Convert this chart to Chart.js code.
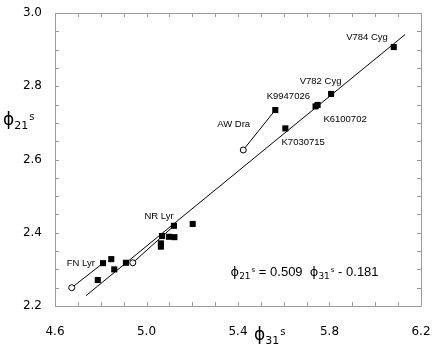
<!DOCTYPE html>
<html lang="en">
<head>
<meta charset="UTF-8">
<title>phi21 vs phi31</title>
<script src="https://cdn.jsdelivr.net/npm/chart.js"></script>
<style>
  body { margin: 0; background: #fff; }
</style>
</head>
<body>
<canvas id="chart" width="436" height="356"></canvas>
<script>
// filled squares (phi31, phi21)
const sqX = [4.787, 4.810, 4.846, 4.859, 4.910, 5.063, 5.063, 5.068, 5.098, 5.122, 5.120, 5.202, 5.563, 5.607, 5.739, 5.748, 5.807, 6.081];
const sqY = [2.271, 2.317, 2.328, 2.300, 2.318, 2.371, 2.362, 2.391, 2.389, 2.388, 2.419, 2.424, 2.735, 2.685, 2.745, 2.749, 2.779, 2.907];
// open circles
const openX = [4.673, 4.940, 5.423];
const openY = [2.250, 2.318, 2.626];
// links open circle -> square
const fnLyrX = [4.673, 4.810], fnLyrY = [2.250, 2.317];
const nrLyrX = [4.940, 5.120], nrLyrY = [2.318, 2.419];
const awDraX = [5.423, 5.563], awDraY = [2.626, 2.735];
// fit line phi21 = 0.509 phi31 - 0.181 (end points)
const fitX = [4.735, 6.130], fitY = [2.228, 2.941];

// star names and where their text sits (data units)
const starNames = ['V784 Cyg', 'V782 Cyg', 'K9947026', 'K6100702', 'K7030715', 'AW Dra', 'NR Lyr', 'FN Lyr'];
const starLabelX = [5.964, 5.761, 5.620, 5.868, 5.685, 5.381, 5.055, 4.713];
const starLabelY = [2.934, 2.814, 2.771, 2.710, 2.646, 2.696, 2.444, 2.316];
const eqX = 5.691, eqY = 2.296;

const xMin = 4.6, xMax = 6.2, xStep = 0.1;
const yMin = 2.2, yMax = 3.0, yStep = 0.05;

function pts(xs, ys) { return xs.map((x, i) => ({ x: x, y: ys[i] })); }

const boxColor = '#9a9a9a';

// box round the plot with small ticks pointing inward
const framePlugin = {
  id: 'frame',
  beforeDatasetsDraw(chart) {
    const ctx = chart.ctx, a = chart.chartArea;
    const xs = chart.scales.x, ys = chart.scales.y;
    ctx.save();
    ctx.strokeStyle = boxColor;
    ctx.lineWidth = 1;
    ctx.beginPath();
    ctx.rect(Math.round(a.left) + 0.5, Math.round(a.top) + 0.5, Math.round(a.right - a.left), Math.round(a.bottom - a.top));
    xs.ticks.forEach((t, i) => {
      const px = Math.round(xs.getPixelForTick(i)) + 0.5;
      ctx.moveTo(px, a.bottom); ctx.lineTo(px, a.bottom - 4);
      ctx.moveTo(px, a.top); ctx.lineTo(px, a.top + 4);
    });
    ys.ticks.forEach((t, i) => {
      const py = Math.round(ys.getPixelForTick(i)) + 0.5;
      ctx.moveTo(a.left, py); ctx.lineTo(a.left + 4, py);
      ctx.moveTo(a.right, py); ctx.lineTo(a.right - 4, py);
    });
    ctx.stroke();
    ctx.restore();
  }
};

// draws phi with subscript and superscript, returns end x
function drawPhi(ctx, x, base, sub, big, small, sup) {
  ctx.font = big + 'px "DejaVu Sans"';
  ctx.fillText('\u03D5', x, base);
  x += ctx.measureText('\u03D5').width;
  ctx.font = small + 'px "DejaVu Sans"';
  ctx.fillText(sub, x, base + big * 0.22);
  x += ctx.measureText(sub).width + 1;
  ctx.font = sup + 'px "DejaVu Sans"';
  ctx.fillText('s', x, base - big * 0.3);
  x += ctx.measureText('s').width;
  return x;
}

const textPlugin = {
  id: 'texts',
  afterDatasetsDraw(chart) {
    const ctx = chart.ctx;
    const xs = chart.scales.x, ys = chart.scales.y;
    ctx.save();
    ctx.fillStyle = '#000';
    ctx.textBaseline = 'middle';
    ctx.textAlign = 'center';
    ctx.font = '9.5px "Liberation Sans"';
    starNames.forEach((n, i) => {
      ctx.fillText(n, xs.getPixelForValue(starLabelX[i]), ys.getPixelForValue(starLabelY[i]));
    });

    // equation
    ctx.textAlign = 'left';
    ctx.textBaseline = 'alphabetic';
    const cx = xs.getPixelForValue(eqX), cy = ys.getPixelForValue(eqY) + 5;
    const mid = ' = 0.509  ', tail = ' - 0.181';
    ctx.font = '13px "DejaVu Sans"';
    let w = ctx.measureText('\u03D5').width * 2;
    ctx.font = '9px "DejaVu Sans"';
    w += ctx.measureText('21').width * 2 + 2;
    ctx.font = '7px "DejaVu Sans"';
    w += ctx.measureText('s').width * 2;
    ctx.font = '13px "Liberation Sans"';
    w += ctx.measureText(mid).width + ctx.measureText(tail).width;
    let x = cx - w / 2;
    x = drawPhi(ctx, x, cy, '21', 13, 9, 7);
    ctx.font = '13px "Liberation Sans"';
    ctx.fillText(mid, x, cy);
    x += ctx.measureText(mid).width;
    x = drawPhi(ctx, x, cy, '31', 13, 9, 7);
    ctx.font = '13px "Liberation Sans"';
    ctx.fillText(tail, x, cy);

    // axis titles
    drawPhi(ctx, 3, 125, '21', 17, 11, 10);
    drawPhi(ctx, 254, 340, '31', 17, 11, 10);
    ctx.restore();
  }
};

// keep label overhang from shrinking the plot box
function noPad(s) {
  s.paddingLeft = 0; s.paddingRight = 0; s.paddingTop = 0; s.paddingBottom = 0;
}

new Chart(document.getElementById('chart'), {
  type: 'scatter',
  data: {
    datasets: [
      { data: pts(openX, openY), pointStyle: 'circle', pointRadius: 3, borderWidth: 1,
        borderColor: '#000', backgroundColor: '#fff', order: 1 },
      { data: pts(sqX, sqY), pointStyle: 'rect', pointRadius: 4.3, borderWidth: 0,
        borderColor: '#000', backgroundColor: '#000', order: 2 },
      { data: pts(fitX, fitY), showLine: true, pointRadius: 0, borderWidth: 1,
        borderColor: '#000', order: 3 },
      { data: pts(fnLyrX, fnLyrY), showLine: true, pointRadius: 0, borderWidth: 1,
        borderColor: '#000', order: 3 },
      { data: pts(nrLyrX, nrLyrY), showLine: true, pointRadius: 0, borderWidth: 1,
        borderColor: '#000', order: 3 },
      { data: pts(awDraX, awDraY), showLine: true, pointRadius: 0, borderWidth: 1,
        borderColor: '#000', order: 3 }
    ]
  },
  options: {
    responsive: false,
    animation: false,
    events: [],
    layout: { padding: { top: 13, right: 15, left: 0, bottom: 0 } },
    plugins: { legend: { display: false }, tooltip: { enabled: false } },
    scales: {
      x: {
        type: 'linear', min: xMin, max: xMax,
        grid: { display: false, drawTicks: false },
        border: { display: false },
        ticks: {
          stepSize: xStep, autoSkip: false, padding: 19, color: '#000',
          font: { family: 'DejaVu Sans', size: 12 },
          maxRotation: 0,
          callback: (v, i) => i % 4 === 0 ? v.toFixed(1) : ''
        },
        afterFit: s => { s.height = 50; noPad(s); }
      },
      y: {
        type: 'linear', min: yMin, max: yMax,
        grid: { display: false, drawTicks: false },
        border: { display: false },
        ticks: {
          stepSize: yStep, autoSkip: false, padding: 13, color: '#000',
          font: { family: 'DejaVu Sans', size: 12 },
          callback: (v, i) => i % 4 === 0 ? v.toFixed(1) : ''
        },
        afterFit: s => { s.width = 55; noPad(s); }
      }
    }
  },
  plugins: [framePlugin, textPlugin]
});
</script>
</body>
</html>
